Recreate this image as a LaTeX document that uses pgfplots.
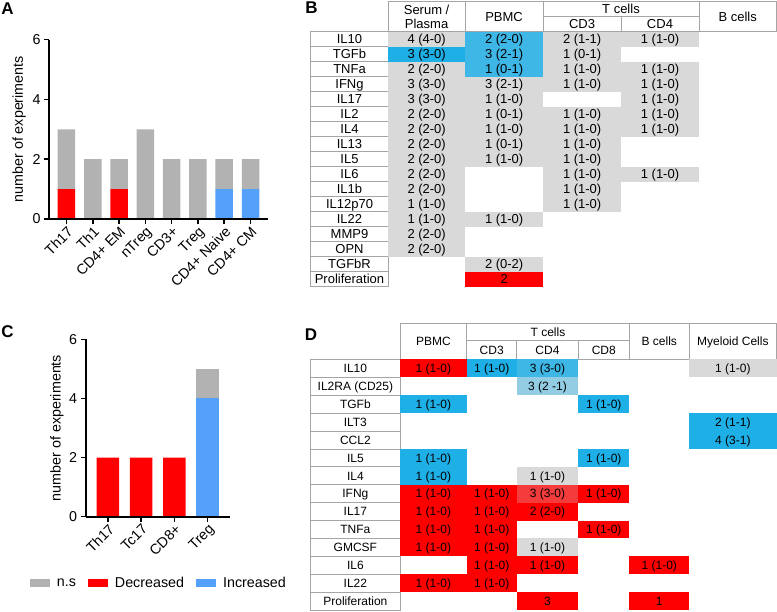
\documentclass[border=0pt]{standalone}
\usepackage{pgfplots}
\pgfplotsset{compat=1.18}
\usepackage{fontspec}
\setmainfont{Liberation Sans}
\definecolor{barns}{RGB}{178,178,178}
\definecolor{barred}{RGB}{255,0,0}
\definecolor{barblue}{RGB}{85,160,250}
\definecolor{cgray}{RGB}{217,217,217}
\definecolor{cblue}{RGB}{30,175,230}
\definecolor{cblue2}{RGB}{62,182,230}
\definecolor{clblue}{RGB}{146,205,227}
\definecolor{cred}{RGB}{255,0,0}
\definecolor{cred2}{RGB}{245,60,60}
\definecolor{bord}{RGB}{165,165,165}
\newcommand{\Bfont}{\fontsize{13bp}{14.5bp}\selectfont}
\newcommand{\Dfont}{\fontsize{12bp}{14bp}\selectfont}
\newcommand{\axfont}{\fontsize{14.3bp}{16bp}\selectfont}
\newcommand{\pfont}{\fontsize{17bp}{17bp}\selectfont\bfseries}
% table B cell: x1 x2 row fill text
\newcommand{\Bc}[5]{%
 \pgfmathsetmacro\yt{31.8+15*#3}\pgfmathsetmacro\yb{46.8+15*#3}%
 \fill[#4] (#1,\yt) rectangle (#2,\yb);
 \node[font=\Bfont,inner sep=0pt,anchor=base] at ({(#1+#2)/2},{(\yt+\yb)/2+4.6}) {#5};}
\newcommand{\BL}[2]{%
 \pgfmathsetmacro\yt{31.8+15*#1}\pgfmathsetmacro\yb{46.8+15*#1}%
 \draw[bord,line width=0.8bp,fill=white] (310.7,\yt) rectangle (388.3,\yb);
 \node[font=\Bfont,inner sep=0pt,anchor=base] at (349.5,{(\yt+\yb)/2+4.6}) {#2};}
% table D
\newcommand{\Dc}[5]{%
 \pgfmathsetmacro\yt{359.4+17.9*#3}\pgfmathsetmacro\yb{377.3+17.9*#3}%
 \fill[#4] (#1,\yt) rectangle (#2,\yb);
 \node[font=\Dfont,inner sep=0pt,anchor=base] at ({(#1+#2)/2},{(\yt+\yb)/2+4.3}) {#5};}
\newcommand{\DL}[2]{%
 \pgfmathsetmacro\yt{359.4+17.9*#1}\pgfmathsetmacro\yb{377.3+17.9*#1}%
 \draw[bord,line width=0.8bp,fill=white] (310.7,\yt) rectangle (400,\yb);
 \node[font=\Dfont,inner sep=0pt,anchor=base] at (355.35,{(\yt+\yb)/2+4.3}) {#2};}
\pgfplotsset{
 myax/.style={
  scale only axis, ymin=0, ymax=6, ytick={0,2,4,6},
  axis x line*=bottom, axis y line*=left, axis on top,
  tick align=outside, major tick length=5bp,
  tick style={black,line width=1.5bp},
  axis line style={line width=1.6bp},
  x tick label style={rotate=45,anchor=north east,inner sep=1bp,font=\axfont},
  y tick label style={font=\axfont},
  ylabel={number of experiments},
  /pgf/number format/assume math mode=true,
  ybar stacked,
 }
}
\begin{document}
\begin{tikzpicture}
\useasboundingbox (0,0) rectangle (777bp,-612bp);
% Panel A
\begin{axis}[myax, at={(49bp,-219bp)}, anchor=south west,
 width=219bp, height=179.5bp, xmin=-0.665, xmax=7.665, bar width=17.5bp,
 xtick={0,...,7}, xticklabels={Th17,Th1,CD4+ EM,nTreg,CD3+,Treg,CD4+ Naive,CD4+ CM},
 ylabel style={font=\axfont,at={(axis description cs:-0.136,0.5)},anchor=center}]
\addplot[fill=barred,draw=none] coordinates {(0,1)(1,0)(2,1)(3,0)(4,0)(5,0)(6,0)(7,0)};
\addplot[fill=barblue,draw=none] coordinates {(0,0)(1,0)(2,0)(3,0)(4,0)(5,0)(6,1)(7,1)};
\addplot[fill=barns,draw=none] coordinates {(0,2)(1,2)(2,1)(3,3)(4,2)(5,2)(6,1)(7,1)};
\end{axis}
% Panel C
\begin{axis}[myax, at={(85.7bp,-516.7bp)}, anchor=south west,
 width=144.3bp, height=177.4bp, xmin=-0.67, xmax=3.67, bar width=22.5bp,
 xtick={0,...,3}, xticklabels={Th17,Tc17,CD8+,Treg},
 ylabel style={font=\axfont,at={(axis description cs:-0.199,0.5)},anchor=center},
 legend columns=3,
 legend image code/.code={\fill[#1] (0bp,-4bp) rectangle (20bp,4bp);},
 legend style={at={(axis description cs:-0.388,-0.3754)},anchor=west,draw=none,fill=none,
  inner sep=0pt,font=\axfont,
  /tikz/every odd column/.append style={column sep=5bp},
  /tikz/every even column/.append style={column sep=10bp}}]
\addlegendimage{fill=barns,draw=none}\addlegendentry{n.s}
\addlegendimage{fill=barred,draw=none}\addlegendentry{Decreased}
\addlegendimage{fill=barblue,draw=none}\addlegendentry{Increased}
\addplot[fill=barred,draw=none,forget plot] coordinates {(0,2)(1,2)(2,2)(3,0)};
\addplot[fill=barblue,draw=none,forget plot] coordinates {(0,0)(1,0)(2,0)(3,4)};
\addplot[fill=barns,draw=none,forget plot] coordinates {(0,0)(1,0)(2,0)(3,1)};
\end{axis}
\begin{scope}[x=1bp,y=-1bp]
% panel letters
\node[font=\pfont,inner sep=0pt] at (7.5,9) {A};
\node[font=\pfont,inner sep=0pt] at (311.5,8) {B};
\node[font=\pfont,inner sep=0pt] at (7.5,332) {C};
\node[font=\pfont,inner sep=0pt] at (311,335) {D};
% ---- Table B header
\begin{scope}[bord,line width=0.8bp]
\draw (388.3,1.7) rectangle (465,31.8);
\draw (465,1.7) rectangle (543.3,31.8);
\draw (543.3,1.7) rectangle (699,16.7);
\draw (543.3,16.7) rectangle (621,31.8);
\draw (621,16.7) rectangle (699,31.8);
\draw (699,1.7) rectangle (776.5,31.8);
\end{scope}
\node[font=\Bfont,inner sep=0pt,align=center] at (426.6,17) {Serum /\\Plasma};
\node[font=\Bfont,inner sep=0pt,anchor=base] at (504.1,21.4) {PBMC};
\node[font=\Bfont,inner sep=0pt,anchor=base] at (621,13) {T cells};
\node[font=\Bfont,inner sep=0pt,anchor=base] at (582.1,28.5) {CD3};
\node[font=\Bfont,inner sep=0pt,anchor=base] at (660,28.5) {CD4};
\node[font=\Bfont,inner sep=0pt,anchor=base] at (737.7,21.4) {B cells};
% Table B labels
\BL{0}{IL10}\BL{1}{TGFb}\BL{2}{TNFa}\BL{3}{IFNg}\BL{4}{IL17}\BL{5}{IL2}
\BL{6}{IL4}\BL{7}{IL13}\BL{8}{IL5}\BL{9}{IL6}\BL{10}{IL1b}\BL{11}{IL12p70}
\BL{12}{IL22}\BL{13}{MMP9}\BL{14}{OPN}\BL{15}{TGFbR}\BL{16}{Proliferation}
% Table B cells
\Bc{388.3}{465}{0}{cgray}{4 (4-0)}\Bc{465}{543.3}{0}{cblue2}{2 (2-0)}\Bc{543.3}{621}{0}{cgray}{2 (1-1)}\Bc{621}{699}{0}{cgray}{1 (1-0)}
\Bc{388.3}{465}{1}{cblue}{3 (3-0)}\Bc{465}{543.3}{1}{cblue2}{3 (2-1)}\Bc{543.3}{621}{1}{cgray}{1 (0-1)}
\Bc{388.3}{465}{2}{cgray}{2 (2-0)}\Bc{465}{543.3}{2}{cblue2}{1 (0-1)}\Bc{543.3}{621}{2}{cgray}{1 (1-0)}\Bc{621}{699}{2}{cgray}{1 (1-0)}
\Bc{388.3}{465}{3}{cgray}{3 (3-0)}\Bc{465}{543.3}{3}{cgray}{3 (2-1)}\Bc{543.3}{621}{3}{cgray}{1 (1-0)}\Bc{621}{699}{3}{cgray}{1 (1-0)}
\Bc{388.3}{465}{4}{cgray}{3 (3-0)}\Bc{465}{543.3}{4}{cgray}{1 (1-0)}\Bc{621}{699}{4}{cgray}{1 (1-0)}
\Bc{388.3}{465}{5}{cgray}{2 (2-0)}\Bc{465}{543.3}{5}{cgray}{1 (0-1)}\Bc{543.3}{621}{5}{cgray}{1 (1-0)}\Bc{621}{699}{5}{cgray}{1 (1-0)}
\Bc{388.3}{465}{6}{cgray}{2 (2-0)}\Bc{465}{543.3}{6}{cgray}{1 (1-0)}\Bc{543.3}{621}{6}{cgray}{1 (1-0)}\Bc{621}{699}{6}{cgray}{1 (1-0)}
\Bc{388.3}{465}{7}{cgray}{2 (2-0)}\Bc{465}{543.3}{7}{cgray}{1 (0-1)}\Bc{543.3}{621}{7}{cgray}{1 (1-0)}
\Bc{388.3}{465}{8}{cgray}{2 (2-0)}\Bc{465}{543.3}{8}{cgray}{1 (1-0)}\Bc{543.3}{621}{8}{cgray}{1 (1-0)}
\Bc{388.3}{465}{9}{cgray}{2 (2-0)}\Bc{543.3}{621}{9}{cgray}{1 (1-0)}\Bc{621}{699}{9}{cgray}{1 (1-0)}
\Bc{388.3}{465}{10}{cgray}{2 (2-0)}\Bc{543.3}{621}{10}{cgray}{1 (1-0)}
\Bc{388.3}{465}{11}{cgray}{1 (1-0)}\Bc{543.3}{621}{11}{cgray}{1 (1-0)}
\Bc{388.3}{465}{12}{cgray}{1 (1-0)}\Bc{465}{543.3}{12}{cgray}{1 (1-0)}
\Bc{388.3}{465}{13}{cgray}{2 (2-0)}
\Bc{388.3}{465}{14}{cgray}{2 (2-0)}
\Bc{465}{543.3}{15}{cgray}{2 (0-2)}
\Bc{465}{543.3}{16}{cred}{2}
% ---- Table D header
\begin{scope}[bord,line width=0.8bp]
\draw (400,323.3) rectangle (466.7,359.4);
\draw (466.7,323.3) rectangle (629.3,340.7);
\draw (466.7,340.7) rectangle (516.7,359.4);
\draw (516.7,340.7) rectangle (578.3,359.4);
\draw (578.3,340.7) rectangle (629.3,359.4);
\draw (629.3,323.3) rectangle (689.3,359.4);
\draw (689.3,323.3) rectangle (776.5,359.4);
\end{scope}
\node[font=\Dfont,inner sep=0pt,anchor=base] at (433.35,345.6) {PBMC};
\node[font=\Dfont,inner sep=0pt,anchor=base] at (548,336.3) {T cells};
\node[font=\Dfont,inner sep=0pt,anchor=base] at (491.7,354.3) {CD3};
\node[font=\Dfont,inner sep=0pt,anchor=base] at (547.5,354.3) {CD4};
\node[font=\Dfont,inner sep=0pt,anchor=base] at (603.8,354.3) {CD8};
\node[font=\Dfont,inner sep=0pt,anchor=base] at (659.3,345.6) {B cells};
\node[font=\Dfont,inner sep=0pt,anchor=base] at (732.9,345.6) {Myeloid Cells};
% Table D labels
\DL{0}{IL10}\DL{1}{IL2RA (CD25)}\DL{2}{TGFb}\DL{3}{ILT3}\DL{4}{CCL2}\DL{5}{IL5}
\DL{6}{IL4}\DL{7}{IFNg}\DL{8}{IL17}\DL{9}{TNFa}\DL{10}{GMCSF}\DL{11}{IL6}
\DL{12}{IL22}\DL{13}{Proliferation}
% Table D cells
\Dc{400}{466.7}{0}{cred}{1 (1-0)}\Dc{466.7}{516.7}{0}{cblue}{1 (1-0)}\Dc{516.7}{578.3}{0}{cblue2}{3 (3-0)}\Dc{689.3}{776.5}{0}{cgray}{1 (1-0)}
\Dc{516.7}{578.3}{1}{clblue}{3 (2 -1)}
\Dc{400}{466.7}{2}{cblue}{1 (1-0)}\Dc{578.3}{629.3}{2}{cblue}{1 (1-0)}
\Dc{689.3}{776.5}{3}{cblue}{2 (1-1)}
\Dc{689.3}{776.5}{4}{cblue}{4 (3-1)}
\Dc{400}{466.7}{5}{cblue}{1 (1-0)}\Dc{578.3}{629.3}{5}{cblue}{1 (1-0)}
\Dc{400}{466.7}{6}{cblue}{1 (1-0)}\Dc{516.7}{578.3}{6}{cgray}{1 (1-0)}
\Dc{400}{466.7}{7}{cred}{1 (1-0)}\Dc{466.7}{516.7}{7}{cred}{1 (1-0)}\Dc{516.7}{578.3}{7}{cred2}{3 (3-0)}\Dc{578.3}{629.3}{7}{cred}{1 (1-0)}
\Dc{400}{466.7}{8}{cred}{1 (1-0)}\Dc{466.7}{516.7}{8}{cred}{1 (1-0)}\Dc{516.7}{578.3}{8}{cred}{2 (2-0)}
\Dc{400}{466.7}{9}{cred}{1 (1-0)}\Dc{466.7}{516.7}{9}{cred}{1 (1-0)}\Dc{578.3}{629.3}{9}{cred}{1 (1-0)}
\Dc{400}{466.7}{10}{cred}{1 (1-0)}\Dc{466.7}{516.7}{10}{cred}{1 (1-0)}\Dc{516.7}{578.3}{10}{cgray}{1 (1-0)}
\Dc{466.7}{516.7}{11}{cred}{1 (1-0)}\Dc{516.7}{578.3}{11}{cred}{1 (1-0)}\Dc{629.3}{689.3}{11}{cred}{1 (1-0)}
\Dc{400}{466.7}{12}{cred}{1 (1-0)}\Dc{466.7}{516.7}{12}{cred}{1 (1-0)}
\Dc{516.7}{578.3}{13}{cred}{3}\Dc{629.3}{689.3}{13}{cred}{1}
\end{scope}
\end{tikzpicture}
\end{document}
